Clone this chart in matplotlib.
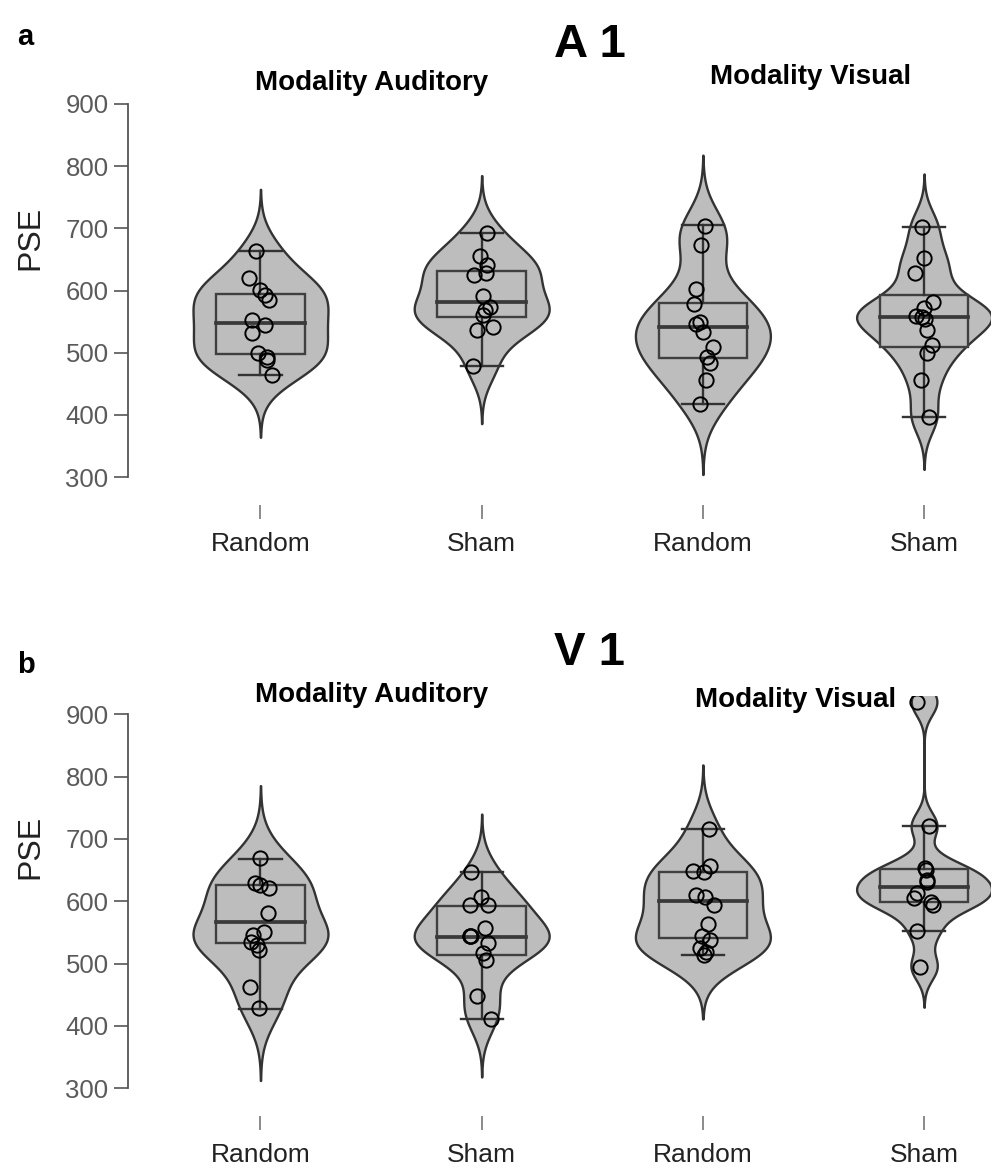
import matplotlib
matplotlib.use("Agg")
import matplotlib.pyplot as plt
from matplotlib.patches import Rectangle
import numpy as np

plt.rcParams['font.family'] = ['Liberation Sans', 'DejaVu Sans']

W, H = 993, 1169

conditions = ["Random", "Sham", "Random", "Sham"]
modalities = ["Modality Auditory", "Modality Visual"]

# PSE values -- panel a (A 1)
a_aud_random = [663, 620, 601, 593, 585, 553, 545, 532, 499, 494, 488, 464]
a_aud_sham = [692, 656, 641, 629, 625, 592, 574, 569, 561, 542, 537, 479]
a_vis_random = [704, 673, 602, 578, 550, 546, 534, 510, 494, 483, 456, 418]
a_vis_sham = [703, 652, 628, 582, 572, 559, 558, 555, 537, 512, 499, 456, 397]

# panel b (V 1)
b_aud_random = [670, 629, 626, 621, 581, 551, 546, 535, 530, 522, 463, 428]
b_aud_sham = [647, 607, 594, 594, 557, 544, 544, 545, 533, 517, 506, 448, 411]
b_vis_random = [716, 657, 649, 647, 610, 607, 594, 564, 544, 538, 525, 518, 514]
b_vis_sham = [920, 721, 653, 650, 634, 631, 613, 606, 599, 594, 553, 495]

# horizontal jitter of the points (category units), as seen in the figure
a_aud_random_jit = [-0.02, -0.05, 0.0, 0.02, 0.04, -0.04, 0.02, -0.04, -0.01, 0.03, 0.03, 0.05]
a_aud_sham_jit = [0.026, -0.008, 0.026, 0.02, -0.035, 0.005, 0.038, 0.015, 0.008, 0.053, -0.02, -0.038]
a_vis_random_jit = [0.008, -0.008, -0.033, -0.038, -0.012, -0.033, 0.0, 0.045, 0.018, 0.03, 0.012, -0.015]
a_vis_sham_jit = [-0.008, 0.0, -0.041, 0.041, 0.0, -0.035, -0.011, 0.005, 0.015, 0.038, 0.015, -0.015, 0.023]
b_aud_random_jit = [0.0, -0.023, 0.0, 0.038, 0.033, 0.015, -0.033, -0.042, -0.015, -0.008, -0.048, -0.008]
b_aud_sham_jit = [-0.05, -0.005, -0.053, 0.03, 0.015, -0.053, -0.05, -0.051, 0.03, 0.005, 0.02, -0.02, 0.04]
b_vis_random_jit = [0.026, 0.03, -0.045, 0.003, -0.03, 0.011, 0.048, 0.021, -0.005, 0.033, -0.012, 0.015, 0.003]
b_vis_sham_jit = [-0.03, 0.024, 0.005, 0.009, 0.015, 0.012, -0.03, -0.045, 0.03, 0.042, -0.03, -0.018]

# box stats: q1, median, q3, lower whisker, upper whisker
a_box = [[498, 548.5, 594.5, 464, 663],
         [557, 582, 632, 479, 692],
         [491, 541, 580, 418, 705],
         [510, 558, 593, 397, 703]]
b_box = [[533.5, 567, 626, 427, 668],
         [514, 543, 593, 411, 647.5],
         [541.6, 600.7, 647.5, 514, 716],
         [599.4, 622.4, 651, 553, 721]]

VIOLIN_FILL = '#bdbdbd'
DARK = '#333333'


def nrd0(x):
    x = np.asarray(x, float)
    q75, q25 = np.percentile(x, [75, 25])
    lo = min(x.std(ddof=1), (q75 - q25) / 1.34)
    return 0.9 * lo * len(x) ** -0.2


def draw_violin(ax, pos, vals, half=0.305):
    vals = np.asarray(vals, float)
    bw = nrd0(vals)
    y = np.linspace(vals.min() - 3 * bw, vals.max() + 3 * bw, 512)
    d = np.exp(-0.5 * ((y[:, None] - vals[None, :]) / bw) ** 2).sum(axis=1)
    d = d / d.max() * half
    ax.fill_betweenx(y, pos - d, pos + d, facecolor=VIOLIN_FILL,
                     edgecolor=DARK, linewidth=1.7, zorder=1)


def draw_box(ax, pos, stats, bw=0.40, cap=0.19):
    q1, med, q3, lo, hi = stats
    ax.add_patch(Rectangle((pos - bw / 2, q1), bw, q3 - q1, facecolor=VIOLIN_FILL,
                           edgecolor='#404040', linewidth=1.7, zorder=2))
    ax.plot([pos - bw / 2, pos + bw / 2], [med, med], color='#3a3a3a', lw=2.7, zorder=3)
    ax.plot([pos, pos], [lo, q1], color=DARK, lw=1.7, zorder=2)
    ax.plot([pos, pos], [q3, hi], color=DARK, lw=1.7, zorder=2)
    ax.plot([pos - cap / 2, pos + cap / 2], [lo, lo], color=DARK, lw=1.7, zorder=2)
    ax.plot([pos - cap / 2, pos + cap / 2], [hi, hi], color=DARK, lw=1.7, zorder=2)


def px_axes(fig, left, top, right, bottom):
    return fig.add_axes([left / W, 1 - bottom / H, (right - left) / W, (bottom - top) / H])


def panel(fig, top, bottom, groups, jitters, boxes):
    ax = px_axes(fig, 128, top, 990, bottom)
    for i, (vals, jit, st) in enumerate(zip(groups, jitters, boxes)):
        draw_violin(ax, i, vals)
        draw_box(ax, i, st)
        ax.plot(i + np.asarray(jit), vals, 'o', mfc='none', mec='black',
                ms=10.3, mew=1.4, zorder=4)
    ax.set_xlim(-0.599, 3.298)
    ax.set_ylim(255, 930)
    for s in ['top', 'right', 'bottom']:
        ax.spines[s].set_visible(False)
    ax.spines['left'].set_bounds(300, 900)
    ax.spines['left'].set_color('#555555')
    ax.spines['left'].set_linewidth(1.3)
    ax.set_yticks(range(300, 901, 100))
    ax.set_xticks(range(4))
    ax.set_xticklabels(conditions)
    ax.tick_params(axis='y', length=10, width=1.2, color='#555555',
                   labelsize=18.5, labelcolor='#5a5a5a', pad=4)
    ax.tick_params(axis='x', length=10, width=1.2, color='#777777',
                   labelsize=19, labelcolor='#222222', pad=9)
    ax.patch.set_alpha(0)
    return ax


def ftext(x, y, s, **kw):
    fig.text(x / W, 1 - y / H, s, **kw)


fig = plt.figure(figsize=(W / 100, H / 100), dpi=100)

panel(fig, 85.3, 505.2,
      [a_aud_random, a_aud_sham, a_vis_random, a_vis_sham],
      [a_aud_random_jit, a_aud_sham_jit, a_vis_random_jit, a_vis_sham_jit], a_box)
panel(fig, 695.6, 1116.3,
      [b_aud_random, b_aud_sham, b_vis_random, b_vis_sham],
      [b_aud_random_jit, b_aud_sham_jit, b_vis_random_jit, b_vis_sham_jit], b_box)

# panel letters, titles, facet labels, y labels
ftext(17, 45, 'a', fontsize=21, fontweight='bold', va='baseline')
ftext(17, 673, 'b', fontsize=21, fontweight='bold', va='baseline')
ftext(590, 57, 'A 1', fontsize=34, fontweight='bold', ha='center', va='baseline')
ftext(590, 665, 'V 1', fontsize=34, fontweight='bold', ha='center', va='baseline')

ftext(372, 90, modalities[0], fontsize=20, fontweight='bold', ha='center', va='baseline')
ftext(811, 84, modalities[1], fontsize=20, fontweight='bold', ha='center', va='baseline')
ftext(372, 702, modalities[0], fontsize=20, fontweight='bold', ha='center', va='baseline')
ftext(796, 707, modalities[1], fontsize=20, fontweight='bold', ha='center', va='baseline')

ftext(30, 238, 'PSE', fontsize=23, rotation=90, ha='center', va='center', color='#222222')
ftext(30, 847, 'PSE', fontsize=23, rotation=90, ha='center', va='center', color='#222222')

fig.savefig('out.png', dpi=100)
